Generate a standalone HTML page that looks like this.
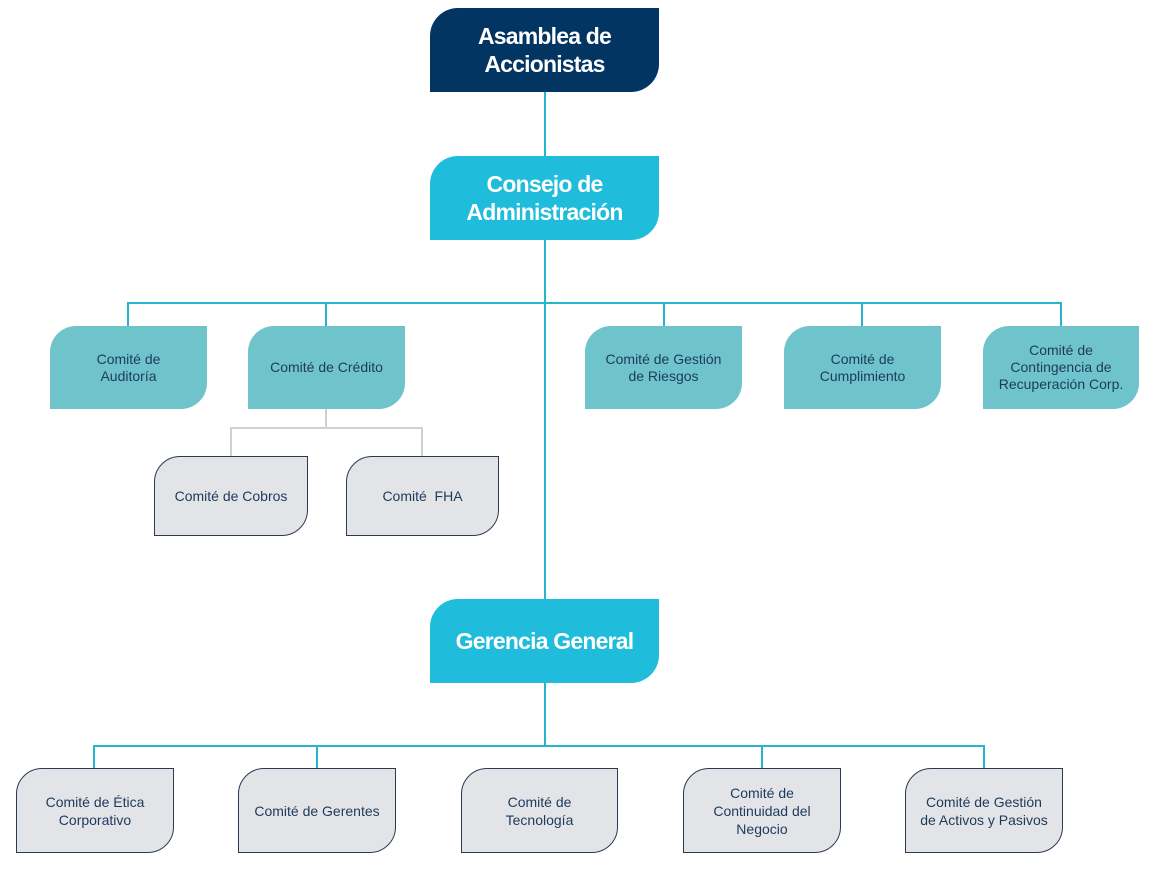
<!DOCTYPE html>
<html><head><meta charset="utf-8"><style>
body{margin:0;width:1155px;height:884px;background:#fff;position:relative;overflow:hidden;font-family:"Liberation Sans",sans-serif}
.b{position:absolute;display:flex;align-items:center;justify-content:center;text-align:center;box-sizing:border-box;border-radius:28px 0 28px 0}
.big{color:#fff;font-weight:bold;font-size:23px;line-height:28px;letter-spacing:-0.8px}
.t{background:#6fc4cc;color:#1d3a5c;font-size:14px;line-height:17px;border-radius:26px 0 26px 0}
.g{background:#e3e4e8;border:1px solid #2a3a50;color:#1d3a5c;font-size:14px;line-height:18px;border-radius:26px 0 26px 0}
.l{position:absolute;background:#27b4cf}
.lg{position:absolute;background:#cfd0d3}
</style></head><body>
<div class="l" style="left:544px;top:92px;width:2px;height:508px"></div>
<div class="l" style="left:127px;top:302px;width:935px;height:2px"></div>
<div class="l" style="left:127px;top:302px;width:2px;height:25px"></div>
<div class="l" style="left:325px;top:302px;width:2px;height:25px"></div>
<div class="l" style="left:663px;top:302px;width:2px;height:25px"></div>
<div class="l" style="left:861px;top:302px;width:2px;height:25px"></div>
<div class="l" style="left:1060px;top:302px;width:2px;height:25px"></div>
<div class="lg" style="left:325px;top:409px;width:2px;height:20px"></div>
<div class="lg" style="left:230px;top:427px;width:193px;height:2px"></div>
<div class="lg" style="left:230px;top:427px;width:2px;height:30px"></div>
<div class="lg" style="left:421px;top:427px;width:2px;height:30px"></div>
<div class="l" style="left:544px;top:683px;width:2px;height:64px"></div>
<div class="l" style="left:93px;top:745px;width:892px;height:2px"></div>
<div class="l" style="left:93px;top:745px;width:2px;height:24px"></div>
<div class="l" style="left:316px;top:745px;width:2px;height:24px"></div>
<div class="l" style="left:761px;top:745px;width:2px;height:24px"></div>
<div class="l" style="left:983px;top:745px;width:2px;height:24px"></div>

<div class="b big" style="left:430px;top:8px;width:229px;height:84px;background:#033562">Asamblea de<br>Accionistas</div>
<div class="b big" style="left:430px;top:156px;width:229px;height:84px;background:#1fbcdb">Consejo de<br>Administración</div>
<div class="b big" style="left:430px;top:599px;width:229px;height:84px;background:#1fbcdb">Gerencia General</div>

<div class="b t" style="left:50px;top:326px;width:157px;height:83px">Comité de<br>Auditoría</div>
<div class="b t" style="left:248px;top:326px;width:157px;height:83px">Comité de Crédito</div>
<div class="b t" style="left:585px;top:326px;width:157px;height:83px">Comité de Gestión<br>de Riesgos</div>
<div class="b t" style="left:784px;top:326px;width:157px;height:83px">Comité de<br>Cumplimiento</div>
<div class="b t" style="left:983px;top:326px;width:156px;height:83px">Comité de<br>Contingencia de<br>Recuperación Corp.</div>

<div class="b g" style="left:154px;top:456px;width:154px;height:80px">Comité de Cobros</div>
<div class="b g" style="left:346px;top:456px;width:153px;height:80px">Comité &nbsp;FHA</div>

<div class="b g" style="left:16px;top:768px;width:158px;height:85px">Comité de Ética<br>Corporativo</div>
<div class="b g" style="left:238px;top:768px;width:158px;height:85px">Comité de Gerentes</div>
<div class="b g" style="left:461px;top:768px;width:157px;height:85px">Comité de<br>Tecnología</div>
<div class="b g" style="left:683px;top:768px;width:158px;height:85px">Comité de<br>Continuidad del<br>Negocio</div>
<div class="b g" style="left:905px;top:768px;width:158px;height:85px">Comité de Gestión<br>de Activos y Pasivos</div>
</body></html>
